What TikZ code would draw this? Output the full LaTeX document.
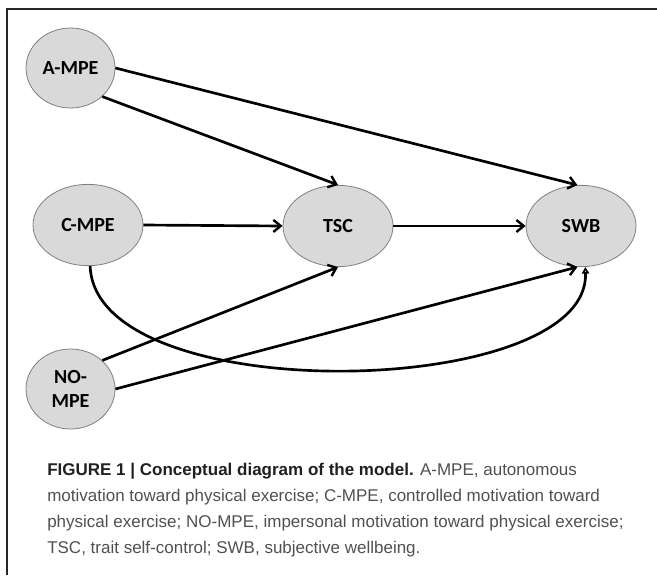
\documentclass[tikz,border=0pt]{standalone}
\usepackage{fontspec}
\setmainfont{Liberation Sans}
\newfontfamily\nodefont{Carlito}
\usetikzlibrary{shapes.geometric,arrows.meta}
\definecolor{nodefill}{HTML}{D9D9D9}
\definecolor{nodeline}{HTML}{7F7F7F}
\definecolor{captext}{HTML}{505050}
\definecolor{capbold}{HTML}{202020}
\tikzset{
  var/.style={ellipse, draw=nodeline, line width=0.6pt, fill=nodefill, inner sep=0pt,
    font=\nodefont\bfseries\fontsize{15}{18.5}\selectfont, align=center},
  small/.style={var, minimum width=66.75pt, minimum height=60pt},
  big/.style={var, minimum width=82.5pt, minimum height=61pt},
  path/.style={line width=2pt, -{Straight Barb[length=5.5pt,width=9pt,line width=1.8pt]}},
  curvepath/.style={line width=2pt, -{Triangle[open,length=5pt,width=5.5pt,line width=1.5pt]}},
  frame/.style={line width=1.3pt, draw=black!85}
}
\begin{document}
\begin{tikzpicture}[x=0.75pt,y=-0.75pt]
\useasboundingbox (0,0) rectangle (657,575);
\coordinate (ftop) at (657,9);
\coordinate (fcorner) at (7,9);
\coordinate (fbot) at (7,575);
\draw[frame] (ftop) -- (fcorner) -- (fbot);

\node[small] (ampe) at (70.5,68) {A-MPE};
\node[big] (cmpe) at (88,225) {C-MPE};
\node[big] (tsc) at (338,226) {TSC};
\node[big] (swb) at (581,226) {SWB};
\node[small] (nompe) at (70.5,389) {NO-\\MPE};

\draw[path] (ampe.east) -- (swb.95);
\draw[path] (ampe.south east) -- (tsc.north);
\draw[path] (cmpe.east) -- (tsc.west);
\draw[path] (tsc.east) -- (swb.west);
\draw[path] (nompe.north east) -- (tsc.south);
\draw[path] (nompe.east) -- (swb.-95);
\draw[curvepath] (cmpe.-87) .. controls (95,410) and (590,400) .. (swb.-84);

\node[anchor=north west, align=left, inner sep=0pt, text=captext,
  font=\fontsize{12.75}{19.6}\selectfont] (caption) at (47,463)
  {{\color{capbold}\bfseries FIGURE 1 | Conceptual diagram of the model.} A-MPE, autonomous\\
   motivation toward physical exercise; C-MPE, controlled motivation toward\\
   physical exercise; NO-MPE, impersonal motivation toward physical exercise;\\
   TSC, trait self-control; SWB, subjective wellbeing.};
\end{tikzpicture}
\end{document}
